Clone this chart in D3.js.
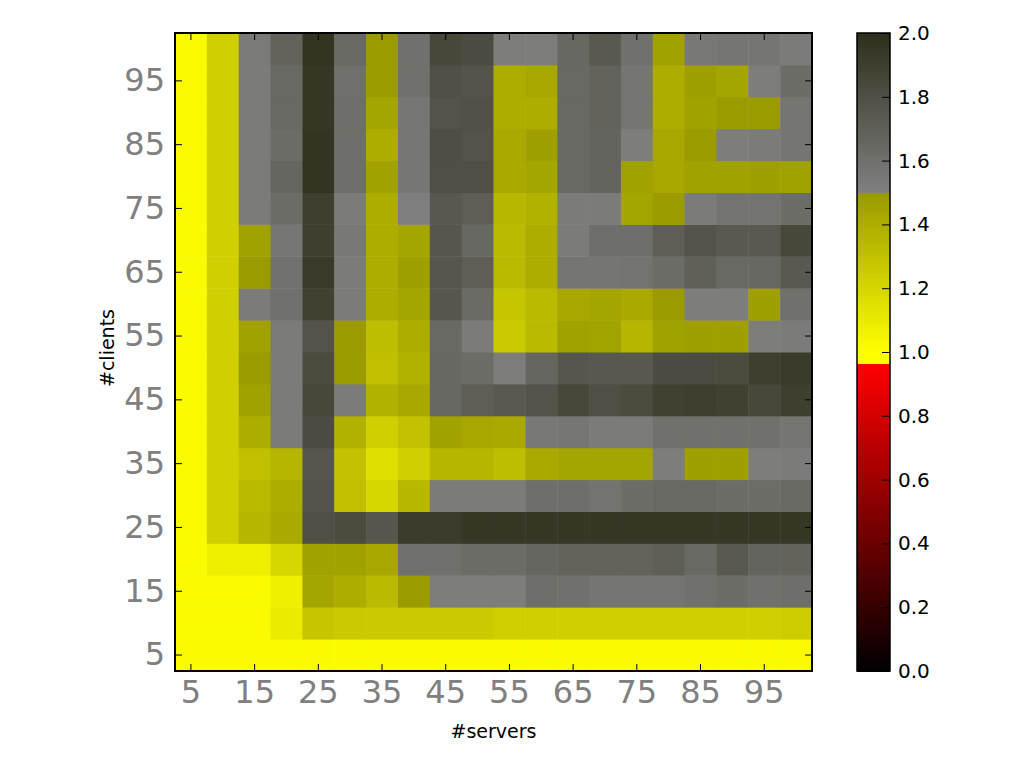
<!DOCTYPE html>
<html>
<head>
<meta charset="utf-8">
<script src="https://cdn.jsdelivr.net/npm/d3@7"></script>
<style>
  body { margin: 0; background: #fff; }
  svg, svg text { font-family: "DejaVu Sans", sans-serif; }
</style>
</head>
<body>
<div id="chart"></div>
<script>
// servers (columns) and clients (rows)
var servers = d3.range(5, 101, 5);
var clients = d3.range(5, 101, 5);
var tickLabels = [5, 15, 25, 35, 45, 55, 65, 75, 85, 95];
var cbarTicks = [0, 0.2, 0.4, 0.6, 0.8, 1.0, 1.2, 1.4, 1.6, 1.8, 2.0];

// one row per #clients value, left to right by #servers
var row5   = [1.02,1.02,1.02,1.02,1.02,1.02,1.02,1.02,1.02,1.02,1.02,1.02,1.02,1.02,1.02,1.02,1.02,1.02,1.02,1.02];
var row10  = [1.02,1.02,1.02,1.10,1.28,1.26,1.26,1.26,1.26,1.26,1.23,1.23,1.23,1.23,1.23,1.23,1.23,1.23,1.23,1.25];
var row15  = [1.02,1.02,1.02,1.08,1.44,1.40,1.34,1.49,1.52,1.52,1.52,1.61,1.60,1.57,1.57,1.57,1.60,1.62,1.60,1.61];
var row20  = [1.02,1.08,1.08,1.20,1.46,1.46,1.43,1.60,1.60,1.62,1.62,1.66,1.68,1.68,1.68,1.71,1.64,1.74,1.67,1.68];
var row25  = [1.02,1.23,1.36,1.42,1.80,1.83,1.76,1.92,1.92,1.95,1.95,1.95,1.95,1.95,1.95,1.95,1.95,1.95,1.95,1.95];
var row30  = [1.02,1.23,1.34,1.40,1.77,1.31,1.20,1.35,1.53,1.53,1.53,1.61,1.61,1.58,1.62,1.64,1.64,1.62,1.62,1.64];
var row35  = [1.02,1.23,1.31,1.36,1.76,1.30,1.15,1.23,1.36,1.36,1.32,1.42,1.44,1.44,1.44,1.52,1.47,1.47,1.52,1.53];
var row40  = [1.02,1.23,1.40,1.53,1.82,1.38,1.23,1.30,1.46,1.43,1.42,1.55,1.56,1.53,1.53,1.60,1.60,1.60,1.60,1.57];
var row45  = [1.02,1.23,1.46,1.53,1.85,1.53,1.38,1.43,1.65,1.71,1.74,1.78,1.85,1.80,1.83,1.89,1.91,1.89,1.85,1.90];
var row50  = [1.02,1.23,1.49,1.53,1.83,1.49,1.31,1.38,1.65,1.62,1.52,1.66,1.76,1.75,1.75,1.82,1.82,1.83,1.90,1.93];
var row55  = [1.02,1.23,1.46,1.53,1.78,1.49,1.32,1.40,1.64,1.53,1.26,1.34,1.46,1.45,1.36,1.46,1.47,1.47,1.52,1.53];
var row60  = [1.02,1.23,1.53,1.60,1.89,1.53,1.40,1.44,1.76,1.63,1.28,1.34,1.43,1.44,1.42,1.49,1.52,1.52,1.47,1.60];
var row65  = [1.02,1.23,1.49,1.59,1.93,1.53,1.40,1.47,1.76,1.71,1.34,1.40,1.57,1.57,1.58,1.62,1.70,1.64,1.65,1.74];
var row70  = [1.02,1.23,1.46,1.56,1.90,1.55,1.40,1.44,1.76,1.65,1.34,1.40,1.53,1.61,1.61,1.71,1.77,1.74,1.74,1.85];
var row75  = [1.02,1.23,1.53,1.62,1.90,1.53,1.40,1.51,1.75,1.71,1.35,1.38,1.53,1.53,1.44,1.49,1.53,1.58,1.58,1.62];
var row80  = [1.02,1.23,1.53,1.66,1.97,1.61,1.46,1.56,1.80,1.80,1.42,1.44,1.64,1.67,1.46,1.43,1.46,1.46,1.47,1.46];
var row85  = [1.02,1.23,1.53,1.62,1.97,1.61,1.40,1.56,1.81,1.78,1.42,1.47,1.64,1.67,1.52,1.43,1.49,1.52,1.53,1.57];
var row90  = [1.02,1.23,1.53,1.64,1.95,1.61,1.44,1.56,1.78,1.79,1.40,1.40,1.64,1.68,1.57,1.40,1.46,1.49,1.49,1.57];
var row95  = [1.02,1.23,1.53,1.64,1.95,1.60,1.49,1.60,1.80,1.77,1.40,1.43,1.64,1.68,1.57,1.40,1.47,1.44,1.52,1.62];
var row100 = [1.02,1.23,1.54,1.68,1.97,1.64,1.49,1.60,1.85,1.82,1.52,1.52,1.65,1.74,1.60,1.46,1.55,1.57,1.57,1.53];

var rows = [row5, row10, row15, row20, row25, row30, row35, row40, row45, row50,
            row55, row60, row65, row70, row75, row80, row85, row90, row95, row100];

var data = [];
rows.forEach(function(r, i) {
  r.forEach(function(v, j) {
    data.push({client: clients[i], server: servers[j], value: v});
  });
});

var W = 1017, H = 763;
var margin = {top: 33, left: 175},
    width = 637, height = 638;

// three-part colormap: black->red, yellow->olive, grey->dark
var redScale = d3.scaleLinear().domain([0, 0.966]).range(["#000000", "#ff0000"]);
var yelScale = d3.scaleLinear().domain([1.0, 1.5]).range(["#ffff00", "#999900"]).clamp(true);
var greyScale = d3.scaleLinear().domain([1.5, 2.0]).range(["#808080", "#2f2f1c"]).clamp(true);
function colour(v) {
  if (v < 0.966) return redScale(v);
  if (v < 1.5) return yelScale(v);
  return greyScale(v);
}

var svg = d3.select("#chart").append("svg")
  .attr("width", W).attr("height", H);

var g = svg.append("g")
  .attr("transform", "translate(" + margin.left + "," + margin.top + ")");

var x = d3.scaleBand().domain(servers).range([0, width]);
var y = d3.scaleBand().domain(clients).range([height, 0]);

g.selectAll("rect.cell")
  .data(data)
  .enter()
  .append("rect")
    .attr("class", "cell")
    .attr("x", function(d) { return x(d.server); })
    .attr("y", function(d) { return y(d.client); })
    .attr("width", x.bandwidth() + 0.5)
    .attr("height", y.bandwidth() + 0.5)
    .style("fill", function(d) { return colour(d.value); });

// axes, ticks pointing inward
function styleAxis(sel, showText) {
  sel.attr("font-family", null);
  sel.select(".domain").remove();
  sel.selectAll(".tick line").attr("stroke", "#000").attr("stroke-width", 1);
  sel.selectAll(".tick text")
    .style("font-family", "'DejaVu Sans', sans-serif")
    .style("font-size", "32px")
    .style("fill", "#808080")
    .style("display", showText ? null : "none");
}

g.append("g")
  .attr("transform", "translate(0," + height + ")")
  .call(d3.axisBottom(x).tickValues(tickLabels).tickSize(-7).tickPadding(9))
  .call(styleAxis, true);
g.append("g")
  .call(d3.axisTop(x).tickValues(tickLabels).tickSize(-7))
  .call(styleAxis, false);
g.append("g")
  .call(d3.axisLeft(y).tickValues(tickLabels).tickSize(-7).tickPadding(10))
  .call(styleAxis, true);
g.append("g")
  .attr("transform", "translate(" + width + ",0)")
  .call(d3.axisRight(y).tickValues(tickLabels).tickSize(-7))
  .call(styleAxis, false);

g.append("rect")
  .attr("width", width).attr("height", height)
  .attr("fill", "none").attr("stroke", "#000").attr("stroke-width", 2);

// axis titles
svg.append("text")
  .attr("x", margin.left + width / 2).attr("y", 738)
  .attr("text-anchor", "middle")
  .style("font-size", "19px")
  .text("#servers");
svg.append("text")
  .attr("transform", "translate(114," + (margin.top + height / 2 - 4) + ") rotate(-90)")
  .attr("text-anchor", "middle")
  .style("font-size", "19px")
  .text("#clients");

// colorbar
var cb = svg.append("g").attr("transform", "translate(857," + margin.top + ")");
var cbW = 33;
var cy = d3.scaleLinear().domain([0, 2]).range([height, 0]);
var steps = d3.range(0, 2, 0.005);
cb.selectAll("rect.step")
  .data(steps)
  .enter()
  .append("rect")
    .attr("class", "step")
    .attr("x", 0)
    .attr("y", function(d) { return cy(d + 0.005); })
    .attr("width", cbW)
    .attr("height", function(d) { return cy(d) - cy(d + 0.005) + 0.6; })
    .attr("shape-rendering", "crispEdges")
    .style("fill", function(d) { return colour(d + 0.0025); });

var cbAxis = cb.append("g")
  .attr("transform", "translate(" + cbW + ",0)")
  .call(d3.axisRight(cy).tickValues(cbarTicks).tickSize(-8).tickPadding(8).tickFormat(d3.format(".1f")));
cbAxis.attr("font-family", null);
cbAxis.select(".domain").remove();
cbAxis.selectAll(".tick line").attr("stroke", "#000");
cbAxis.selectAll(".tick text")
  .style("font-family", "'DejaVu Sans', sans-serif")
  .style("font-size", "20px").style("fill", "#000");

cb.append("rect")
  .attr("width", cbW).attr("height", height)
  .attr("fill", "none").attr("stroke", "#000").attr("stroke-width", 1.5);
</script>
</body>
</html>
